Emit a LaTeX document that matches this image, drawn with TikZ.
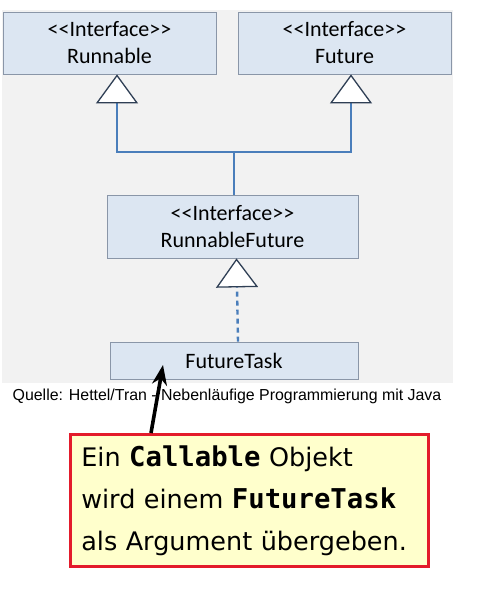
\documentclass[tikz,border=0pt]{standalone}
\usepackage{fontspec}
\setmainfont{Carlito}
\newfontfamily\notefont{DejaVu Sans}
\newfontfamily\notecode{DejaVu Sans Mono}[Scale=1.07]
\newfontfamily\srcfont{Liberation Sans}
\usetikzlibrary{arrows.meta}
\definecolor{umlfill}{HTML}{DCE6F2}
\definecolor{umlborder}{HTML}{8A96A8}
\definecolor{umlline}{HTML}{4A7EBB}
\definecolor{umltip}{HTML}{2F3F55}
\definecolor{notered}{HTML}{E31B2B}
\definecolor{noteyellow}{HTML}{FFFFCC}
\newcommand{\code}[1]{{\notecode\bfseries #1}}
\newcommand{\stereo}{<{}<Interface>{}>}
\tikzset{
  iface/.style={draw=umlborder,fill=umlfill,line width=.8pt,inner sep=0pt,
    align=center,font=\fontsize{22}{27}\selectfont},
  inherit/.style={draw=umlline,line width=2.4pt,
    -{Triangle[length=29pt,width=42pt,fill=white,color=umltip,line width=1.3pt]}},
}

\begin{document}
\begin{tikzpicture}[x=1pt,y=-1pt]
\useasboundingbox (0,0) rectangle (482,594);
\fill[black!5] (2,10) rectangle (453,383);
\node[iface,minimum width=213,minimum height=62] (runnable) at (109.5,43) {\stereo\\Runnable};
\node[iface,minimum width=213,minimum height=62] (future) at (344.5,43) {\stereo\\Future};
\node[iface,minimum width=251,minimum height=63] (runfut) at (232.5,226.5) {\stereo\\RunnableFuture};
\node[iface,minimum width=248,minimum height=37] (task) at (234,360.5) {FutureTask};
\coordinate (join) at (234,152);
\draw[inherit] (runfut.north -| join) -- (join) -| ([xshift=7.5]runnable.south);
\draw[inherit] (join) -| ([xshift=6.5]future.south);
\draw[inherit,dash pattern=on 5pt off 4pt] ([xshift=4]task.north) -- ([xshift=4]runfut.south);
\node[font=\srcfont\fontsize{15.9}{18}\selectfont,inner sep=0pt] (source) at (227,396)
  {Quelle: Hettel/Tran - Nebenläufige Programmierung mit Java};
% note box
\node[draw=notered,fill=noteyellow,line width=2.6pt,align=left,anchor=north west,
  text width=336,minimum height=132,inner xsep=11pt,
  font=\notefont\fontsize{25.5}{42}\selectfont] (note) at (69,433)
  {Ein \code{Callable} Objekt\\wird einem \code{FutureTask}\\als Argument übergeben.};
\coordinate (tip) at (163,365);
\draw[line width=3.6pt,-{Stealth[length=20pt,width=15pt]}] ([xshift=82]note.north west) -- (tip);
\end{tikzpicture}
\end{document}
